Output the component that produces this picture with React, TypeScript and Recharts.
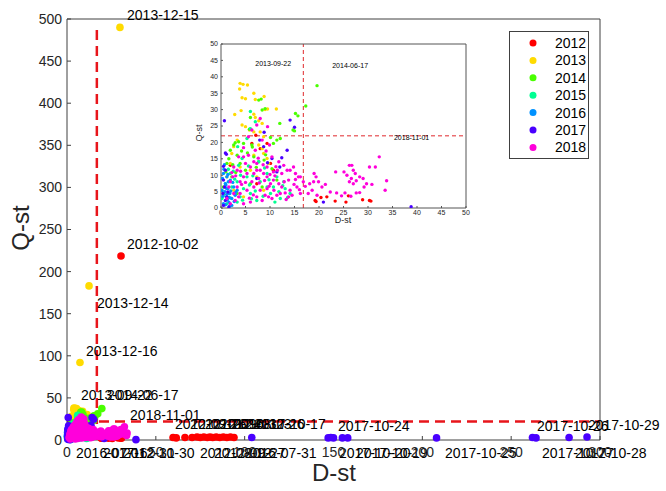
import React from "react"
import {
  ScatterChart,
  Scatter,
  XAxis,
  YAxis,
  ReferenceLine,
  ReferenceDot,
} from "recharts"

// yearly event points, [D-st, Q-st]
const years = ["2012", "2013", "2014", "2015", "2016", "2017", "2018"]

const pts2012: [number, number][] = [
  [7.1, 22.2], [6.3, 19.7], [9.4, 19.7], [8.0, 18.1], [1.9, 13.0], [10.1, 13.6], [10.7, 11.5], [7.3, 7.4],
  [19.2, 2.3], [19.4, 2.0], [20.4, 3.2], [21.6, 3.4], [23.3, 2.1], [25.5, 1.8], [26.0, 3.7], [28.9, 2.5],
  [30.3, 2.3], [30.6, 2.1], [30.4, 218.5],
  [59.7, 3.0], [61.5, 2.5], [66.4, 3.0], [70.4, 3.0], [73.2, 3.5], [75.0, 3.0], [77.0, 3.5], [79.0, 3.0],
  [80.5, 3.5], [82.0, 3.0], [84.0, 3.5], [86.0, 3.0], [88.0, 3.5], [90.0, 3.0], [92.0, 3.5], [94.0, 3.0],
]

const pts2013: [number, number][] = [
  [3.9, 38.0], [4.5, 37.7], [5.4, 37.5], [3.8, 36.3], [6.7, 35.0], [8.8, 34.0], [4.3, 33.6], [5.0, 33.3],
  [7.0, 33.1], [4.1, 29.7], [9.0, 30.0], [9.5, 30.2], [11.3, 30.2], [2.8, 28.5], [6.7, 28.6], [7.0, 27.6],
  [4.3, 25.3], [7.7, 26.6], [8.4, 25.8], [5.0, 24.8], [5.8, 23.8], [6.7, 23.2], [8.0, 23.2], [8.7, 21.7],
  [3.3, 20.7], [2.6, 18.7], [7.7, 19.2], [8.4, 18.1], [8.7, 16.6], [2.2, 16.6], [6.7, 16.1], [9.4, 15.1],
  [1.9, 13.6], [3.9, 12.5], [6.0, 11.5], [1.2, 9.5], [7.3, 9.5], [2.6, 5.4], [4.6, 3.4], [8.7, 5.4],
  [9.7, 13.6], [29.8, 490], [12.4, 183], [7.3, 92],
]

const pts2014: [number, number][] = [
  [19.6, 37.3], [17.3, 31.1], [7.7, 32.9], [8.2, 33.2], [8.4, 29.9], [9.0, 30.3], [15.2, 28.8], [15.7, 28.1],
  [14.7, 23.8], [15.0, 23.5], [12.0, 25.8], [6.0, 27.6], [5.8, 24.0], [3.6, 20.2], [2.9, 19.9], [2.6, 19.2],
  [4.6, 19.7], [6.3, 19.2], [10.1, 21.5], [11.4, 20.7], [12.1, 21.2], [10.7, 19.7], [1.9, 17.6], [3.3, 16.1],
  [6.7, 15.6], [7.7, 14.1], [3.9, 13.6], [5.0, 11.5], [10.4, 12.0], [1.2, 13.6], [2.2, 9.5], [6.0, 7.4],
  [11.4, 8.5], [8.4, 6.4], [3.3, 4.4], [0.5, 6.4], [1.6, 15.0], [2.4, 13.2], [4.2, 17.4], [5.4, 16.8],
  [7.2, 12.4], [9.1, 16.2], [1.0, 11.0], [3.0, 10.8], [6.4, 18.6], [8.8, 14.6],
]

const pts2015: [number, number][] = [
  [6.0, 29.4], [7.0, 26.3], [6.0, 24.2], [5.3, 21.2], [3.4, 18.7], [4.3, 15.1], [7.7, 14.1], [1.9, 10.5],
  [5.3, 9.5], [9.4, 10.5], [11.4, 9.5], [12.8, 8.0], [9.4, 6.4], [6.0, 4.4], [10.1, 4.4], [12.1, 2.9],
  [14.1, 4.4], [3.9, 3.4], [1.6, 4.4], [7.3, 2.3], [0.9, 7.4], [2.2, 6.4], [3.3, 8.0], [4.6, 5.9],
  [0.2, 2.9], [8.0, 8.0], [10.7, 6.4], [13.1, 5.9], [3.3, 1.8], [1.2, 1.3], [2.5, 11.2], [4.0, 10.0],
  [5.8, 7.0], [7.0, 5.2], [8.6, 3.6], [11.0, 1.8], [12.6, 6.8], [13.6, 3.2], [2.8, 8.8], [4.4, 2.4],
  [6.5, 9.8], [9.8, 8.6], [11.8, 5.0], [1.5, 11.8], [3.6, 13.0], [5.6, 12.8], [8.9, 12.2], [0.6, 4.2],
  [2.0, 3.0], [6.2, 2.8],
]

const pts2016: [number, number][] = [
  [0.5, 10.5], [0.9, 7.4], [1.4, 5.9], [1.8, 4.4], [1.1, 3.4], [1.6, 1.8], [2.2, 2.9], [0.5, 1.3],
  [1.9, 8.5], [2.6, 6.4], [1.2, 9.5], [0.2, 5.4], [2.9, 3.9], [2.2, 0.8], [3.3, 5.4], [0.3, 9.0],
  [0.6, 11.8], [0.8, 5.0], [1.0, 7.0], [1.3, 2.5], [1.5, 8.0], [1.7, 3.2], [2.0, 5.2], [0.4, 3.6],
  [0.9, 1.0], [1.1, 6.0], [1.4, 10.2], [2.4, 7.8], [2.7, 2.0], [3.0, 4.8], [0.7, 13.2], [1.2, 4.2],
  [1.8, 0.6],
]

const pts2017: [number, number][] = [
  [0.7, 26.6], [0.9, 16.8], [1.1, 16.4], [0.5, 12.7], [0.9, 11.5], [0.5, 8.5], [0.7, 6.4], [0.4, 4.4],
  [0.9, 2.3], [1.2, 3.4], [0.5, 0.8], [1.4, 4.9], [1.6, 0.3], [14.1, 26.8], [15.0, 24.6], [8.8, 23.1],
  [7.9, 20.7], [8.7, 18.7], [10.4, 15.1], [9.5, 13.8], [12.4, 15.3], [13.5, 17.6], [12.0, 12.5], [11.4, 11.0],
  [7.3, 9.0], [20.9, 1.8], [38.8, 0.4],
  [104, 3.0], [147, 2.5], [148.5, 3.0], [150, 2.5], [155, 2.5], [158, 2.5], [208, 2.5], [262, 3.0],
  [264, 2.5], [282.6, 3.0], [292.7, 3.5],
]

const pts2018: [number, number][] = [
  [17.2, 6.6], [18.1, 7.4], [18.9, 8.0], [19.0, 10.5], [19.4, 9.5], [19.9, 8.0], [20.6, 6.4], [21.3, 7.2],
  [18.6, 5.4], [19.6, 3.9], [17.8, 4.4], [22.3, 4.9], [23.6, 4.6], [23.4, 11.0], [25.1, 11.0], [25.7, 10.0],
  [26.2, 13.0], [26.7, 13.0], [27.0, 11.5], [27.4, 10.5], [26.6, 9.0], [26.2, 8.0], [27.0, 7.4], [27.6, 8.3],
  [28.3, 9.5], [29.0, 9.0], [29.7, 7.4], [30.3, 12.5], [29.2, 6.4], [30.8, 7.2], [31.5, 12.5], [32.3, 15.6],
  [33.8, 8.3], [33.5, 5.4], [27.6, 4.6], [28.3, 4.7], [26.5, 3.6], [24.6, 3.7], [25.3, 4.6], [15.2, 8.7],
  [15.8, 9.5], [15.2, 10.5], [15.5, 6.4], [14.1, 5.4], [14.5, 3.9], [13.1, 4.6], [16.2, 4.4], [16.8, 8.0],
  [13.8, 3.4], [12.4, 6.4], [11.8, 7.4], [10.7, 8.5], [10.1, 7.4], [9.4, 9.5], [8.7, 10.5], [8.0, 11.5],
  [9.4, 12.5], [7.3, 13.6], [6.7, 14.1], [6.0, 12.5], [5.3, 10.5], [4.6, 9.5], [3.9, 8.0], [3.3, 6.4],
  [2.6, 4.4], [3.9, 4.4], [5.3, 5.4], [6.7, 6.4], [8.0, 5.4], [9.0, 3.9], [10.4, 2.9], [11.4, 3.9],
  [7.3, 3.4], [6.0, 1.8], [4.6, 1.3], [2.9, 2.3], [1.9, 1.3], [6.3, 8.0], [7.7, 9.0], [9.4, 5.9],
  [10.8, 5.4], [12.1, 4.4], [12.4, 10.5], [13.5, 11.5], [12.8, 13.0], [11.8, 14.1], [10.4, 15.6], [9.2, 17.4],
  [9.9, 19.2], [8.4, 20.7], [9.5, 24.8], [6.3, 23.8], [7.3, 25.3], [8.0, 27.3], [5.6, 21.7], [4.6, 18.4],
  [3.6, 15.6], [2.6, 12.5], [1.9, 8.0], [1.6, 6.4], [1.2, 2.9], [14.1, 11.5], [14.8, 12.5], [13.8, 8.5],
  [4.6, 15.6], [5.6, 16.1], [7.0, 17.6], [7.3, 11.5], [6.7, 10.5], [5.0, 13.6], [3.3, 11.5], [2.4, 9.5],
  [10.7, 11.0], [11.5, 11.5], [16.2, 9.5], [9.7, 3.4], [8.4, 2.3], [3.0, 9.8], [4.2, 7.2], [5.8, 3.0],
  [7.8, 7.6], [8.9, 8.4], [11.0, 9.8], [12.9, 8.0], [13.3, 2.6], [14.9, 7.2], [16.0, 5.6], [2.2, 10.8],
  [3.6, 3.4], [5.0, 7.8], [6.6, 4.0], [9.8, 6.6], [11.2, 12.6], [10.0, 10.2], [7.6, 15.2], [8.6, 13.2],
  [4.0, 11.2],
]

const yearPoints = [pts2012, pts2013, pts2014, pts2015, pts2016, pts2017, pts2018]

// hsv(7) colormap
const yearColors = ["#ff0000", "#ffdb00", "#49ff00", "#00ff92", "#0092ff", "#4900ff", "#ff00db"]

const xTicks = [0, 50, 100, 150, 200, 250, 300]
const yTicks = [0, 50, 100, 150, 200, 250, 300, 350, 400, 450, 500]
const insetTicks = [0, 5, 10, 15, 20, 25, 30, 35, 40, 45, 50]

const dLimit = 16.8
const qLimit = 22
const qLineTop = 490

// date annotations, placed at [D-st, Q-st] like text(x, y, str)
const mainNotes: { text: string; d: number; q: number }[] = [
  { text: "2013-12-15", d: 33.8, q: 505 },
  { text: "2012-10-02", d: 33.8, q: 233 },
  { text: "2013-12-14", d: 16.9, q: 163 },
  { text: "2013-12-16", d: 10.7, q: 106 },
  { text: "2013-09-22", d: 7.9, q: 53 },
  { text: "2014-06-17", d: 22.5, q: 53 },
  { text: "2018-11-01", d: 35.5, q: 30 },
  { text: "2012-09-26", d: 60.8, q: 19 },
  { text: "2012-10-24", d: 69.2, q: 19 },
  { text: "2012-09-13", d: 77.7, q: 19 },
  { text: "2012-08-23", d: 86.1, q: 19 },
  { text: "2016-10-26", d: 93.4, q: 19 },
  { text: "2017-10-17", d: 105.3, q: 19 },
  { text: "2017-10-24", d: 152.5, q: 16.6 },
  { text: "2017-10-26", d: 264.5, q: 16.6 },
  { text: "2017-10-29", d: 293.2, q: 17.8 },
  { text: "2016-07-16", d: 5.1, q: -15.4 },
  { text: "2017-12-31", d: 20.3, q: -15.4 },
  { text: "2012-10-30", d: 31.5, q: -15.4 },
  { text: "2012-08-12", d: 74.9, q: -15.4 },
  { text: "2012-09-27", d: 82.7, q: -15.4 },
  { text: "2016-07-31", d: 100.2, q: -15.4 },
  { text: "2017-10-20", d: 153.1, q: -15.4 },
  { text: "2017-10-19", d: 162.7, q: -15.4 },
  { text: "2017-10-25", d: 212.8, q: -15.4 },
  { text: "2017-10-27", d: 267.4, q: -15.4 },
  { text: "2017-10-28", d: 285.9, q: -15.4 },
]

const insetNotes: { text: string; d: number; q: number }[] = [
  { text: "2013-09-22", d: 7.0, q: 44.2 },
  { text: "2014-06-17", d: 22.7, q: 43.3 },
  { text: "2018-11-01", d: 35.3, q: 21.6 },
]

const FONT = "'Liberation Sans', Arial, Helvetica, sans-serif"
const AXIS = "#404040"
const TICK_TEXT = "#262626"

const toRows = (pts: [number, number][]) => pts.map(([d, q]) => ({ d, q }))

const dot = (r: number) => (p: any) => <circle cx={p.cx} cy={p.cy} r={r} fill={p.fill} />

const note = (text: string, size: number) => (p: any) => (
  <text x={p.cx} y={p.cy} dominantBaseline="central" fontSize={size} fontFamily={FONT} fill="#000">
    {text}
  </text>
)

function MainChart() {
  return (
    <ScatterChart width={666} height={491} margin={{ top: 18, right: 65, bottom: 0, left: 0 }}>
      <XAxis
        type="number" dataKey="d" domain={[0, 300]} ticks={xTicks} height={51}
        stroke={AXIS} tickSize={-4} tickMargin={11}
        tick={{ fill: TICK_TEXT, fontSize: 14, fontFamily: FONT }}
      />
      <XAxis
        xAxisId="top" orientation="top" type="number" dataKey="d" domain={[0, 300]} ticks={xTicks}
        height={1} stroke={AXIS} tickSize={-4} tickFormatter={() => ""}
      />
      <YAxis
        type="number" dataKey="q" domain={[0, 500]} ticks={yTicks} width={67}
        stroke={AXIS} tickSize={-4} tickMargin={9}
        tick={{ fill: TICK_TEXT, fontSize: 14, fontFamily: FONT }}
      />
      <YAxis
        yAxisId="right" orientation="right" type="number" dataKey="q" domain={[0, 500]} ticks={yTicks}
        width={1} stroke={AXIS} tickSize={-4} tickFormatter={() => ""}
      />
      {yearPoints.map((pts, i) => (
        <Scatter
          key={years[i]} name={years[i]} data={toRows(pts)} fill={yearColors[i]}
          shape={dot(3.8)} isAnimationActive={false}
        />
      ))}
      <ReferenceLine
        segment={[{ x: dLimit, y: 0 }, { x: dLimit, y: qLineTop }]}
        stroke="#e8151b" strokeWidth={2.5} strokeDasharray="10 6" ifOverflow="visible"
      />
      <ReferenceLine
        segment={[{ x: 0, y: qLimit }, { x: 300, y: qLimit }]}
        stroke="#e8151b" strokeWidth={2.5} strokeDasharray="10 6" ifOverflow="visible"
      />
      {mainNotes.map((n, i) => (
        <ReferenceDot key={i} x={n.d} y={n.q} r={1} ifOverflow="visible" shape={note(n.text, 14)} />
      ))}
    </ScatterChart>
  )
}

function InsetChart() {
  return (
    <ScatterChart width={300} height={200} margin={{ top: 9, right: 14, bottom: 0, left: 0 }}>
      <XAxis
        type="number" dataKey="d" domain={[0, 50]} ticks={insetTicks} height={26} allowDataOverflow
        stroke="#555" tickSize={-2} tickMargin={4}
        tick={{ fill: TICK_TEXT, fontSize: 7, fontFamily: FONT }}
      />
      <XAxis
        xAxisId="top" orientation="top" type="number" dataKey="d" domain={[0, 50]} ticks={insetTicks}
        height={1} stroke="#555" tickSize={-2} tickFormatter={() => ""}
      />
      <YAxis
        type="number" dataKey="q" domain={[0, 50]} ticks={insetTicks} width={40} allowDataOverflow
        stroke="#555" tickSize={-2} tickMargin={5}
        tick={{ fill: TICK_TEXT, fontSize: 7, fontFamily: FONT }}
      />
      <YAxis
        yAxisId="right" orientation="right" type="number" dataKey="q" domain={[0, 50]} ticks={insetTicks}
        width={1} stroke="#555" tickSize={-2} tickFormatter={() => ""}
      />
      {yearPoints.map((pts, i) => (
        <Scatter
          key={years[i]} name={years[i]} data={toRows(pts)} fill={yearColors[i]}
          shape={dot(1.7)} isAnimationActive={false}
        />
      ))}
      <ReferenceLine x={dLimit} stroke="#e0282c" strokeWidth={1} strokeDasharray="4 3" />
      <ReferenceLine y={qLimit} stroke="#e0282c" strokeWidth={1} strokeDasharray="4 3" />
      {insetNotes.map((n, i) => (
        <ReferenceDot key={i} x={n.d} y={n.q} r={1} ifOverflow="visible" shape={note(n.text, 7)} />
      ))}
    </ScatterChart>
  )
}

export default function App() {
  return (
    <div style={{ position: "absolute", left: 0, top: 0, width: 666, height: 491, background: "#fff" }}>
      <MainChart />
      <div style={{ position: "absolute", left: 181, top: 34 }}>
        <InsetChart />
      </div>
      <svg width={666} height={491} style={{ position: "absolute", left: 0, top: 0, pointerEvents: "none" }}>
        <text x={20} y={228} transform="rotate(-90 20 228)" textAnchor="middle" dominantBaseline="central"
          fontSize={24} fontFamily={FONT} fill={TICK_TEXT}>Q-st</text>
        <text x={334} y={472} textAnchor="middle" dominantBaseline="central"
          fontSize={24} fontFamily={FONT} fill={TICK_TEXT}>D-st</text>
        <text x={199} y={133} transform="rotate(-90 199 133)" textAnchor="middle" dominantBaseline="central"
          fontSize={9} fontFamily={FONT} fill={TICK_TEXT}>Q-st</text>
        <text x={343} y={220} textAnchor="middle" dominantBaseline="central"
          fontSize={9} fontFamily={FONT} fill={TICK_TEXT}>D-st</text>
        <g>
          <rect x={509.5} y={31.5} width={79} height={127} fill="#fff" stroke="#404040" strokeWidth={1} />
          {years.map((y, i) => (
            <g key={y}>
              <circle cx={533} cy={43 + i * 17.4} r={3.5} fill={yearColors[i]} />
              <text x={555} y={43 + i * 17.4} dominantBaseline="central" fontSize={14}
                fontFamily={FONT} fill="#000">{y}</text>
            </g>
          ))}
        </g>
      </svg>
    </div>
  )
}
